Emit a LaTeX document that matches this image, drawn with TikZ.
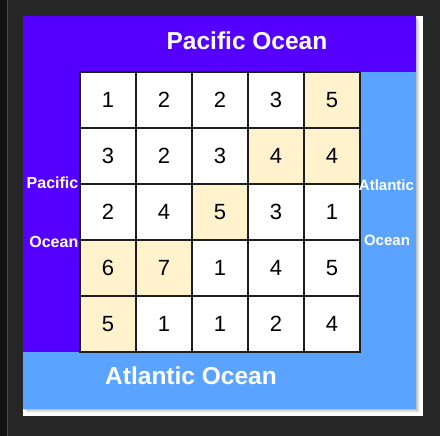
\documentclass[tikz,border=0pt]{standalone}
\usepackage{fontspec}
\setmainfont{Liberation Sans}
\definecolor{pac}{HTML}{5500FF}
\definecolor{atl}{HTML}{5AA3FF}
\definecolor{sand}{HTML}{FFF2CC}
\definecolor{bgdark}{HTML}{262626}
\definecolor{bgdarker}{HTML}{121212}
\definecolor{gridline}{HTML}{1E1E1E}
\begin{document}
\begin{tikzpicture}[x=1pt,y=-1pt,
  cell/.style={draw=gridline, line width=1.3pt, minimum size=56pt, inner sep=0pt, outer sep=0pt, fill=white, font=\fontsize{22}{22}\selectfont},
  hi/.style={fill=sand},
  bigl/.style={text=white, font=\bfseries\fontsize{24.5}{24.5}\selectfont, inner sep=0pt},
  sidel/.style={text=white, font=\bfseries\fontsize{16}{16}\selectfont, inner sep=0pt},
  sider/.style={text=white, font=\bfseries\fontsize{15}{15}\selectfont, inner sep=0pt}]
\useasboundingbox (0,0) rectangle (440,436);
% window background
\fill[bgdark] (0,0) rectangle (440,436);
\fill[bgdarker] (0,0) rectangle (7,436);
\draw[color=black!70, line width=0.8pt] (7.4,0) -- (7.4,436);
% page
\fill[white] (23,16) rectangle (423,416);
% shadow
\foreach \o/\a in {1/0.10,2/0.08,3/0.06,4/0.04}
  \fill[black, opacity=\a] (23+\o,16+\o) rectangle (416+\o,409+\o);
% oceans
\fill[atl] (23,16) rectangle (416,409);
\fill[pac] (23,16) rectangle (416,72);
\fill[pac] (23,72) rectangle (80,352);
% grid
\foreach \r/\row in {1/{1,2,2,3,5},2/{3,2,3,4,4},3/{2,4,5,3,1},4/{6,7,1,4,5},5/{5,1,1,2,4}} {
  \foreach \v [count=\c] in \row {
    \node[cell] (c-\r-\c) at (52+56*\c,44+56*\r) {\v};
  }
}
% highlighted cells (redrawn with sand fill)
\foreach \r/\c/\v in {1/5/5,2/4/4,2/5/4,3/3/5,4/1/6,4/2/7,5/1/5}
  \node[cell,hi] (h-\r-\c) at (52+56*\c,44+56*\r) {\v};
% labels
\node[bigl] (ptop) at (247,40.5) {Pacific Ocean};
\node[bigl] (abot) at (191,376) {Atlantic Ocean};
\node[sidel, anchor=east] (pl1) at (78.5,183) {Pacific};
\node[sidel, anchor=east] (pl2) at (78.5,242) {Ocean};
\node[sider] (ar1) at (386.5,185.5) {Atlantic};
\node[sider] (ar2) at (387,240.5) {Ocean};
\end{tikzpicture}
\end{document}
